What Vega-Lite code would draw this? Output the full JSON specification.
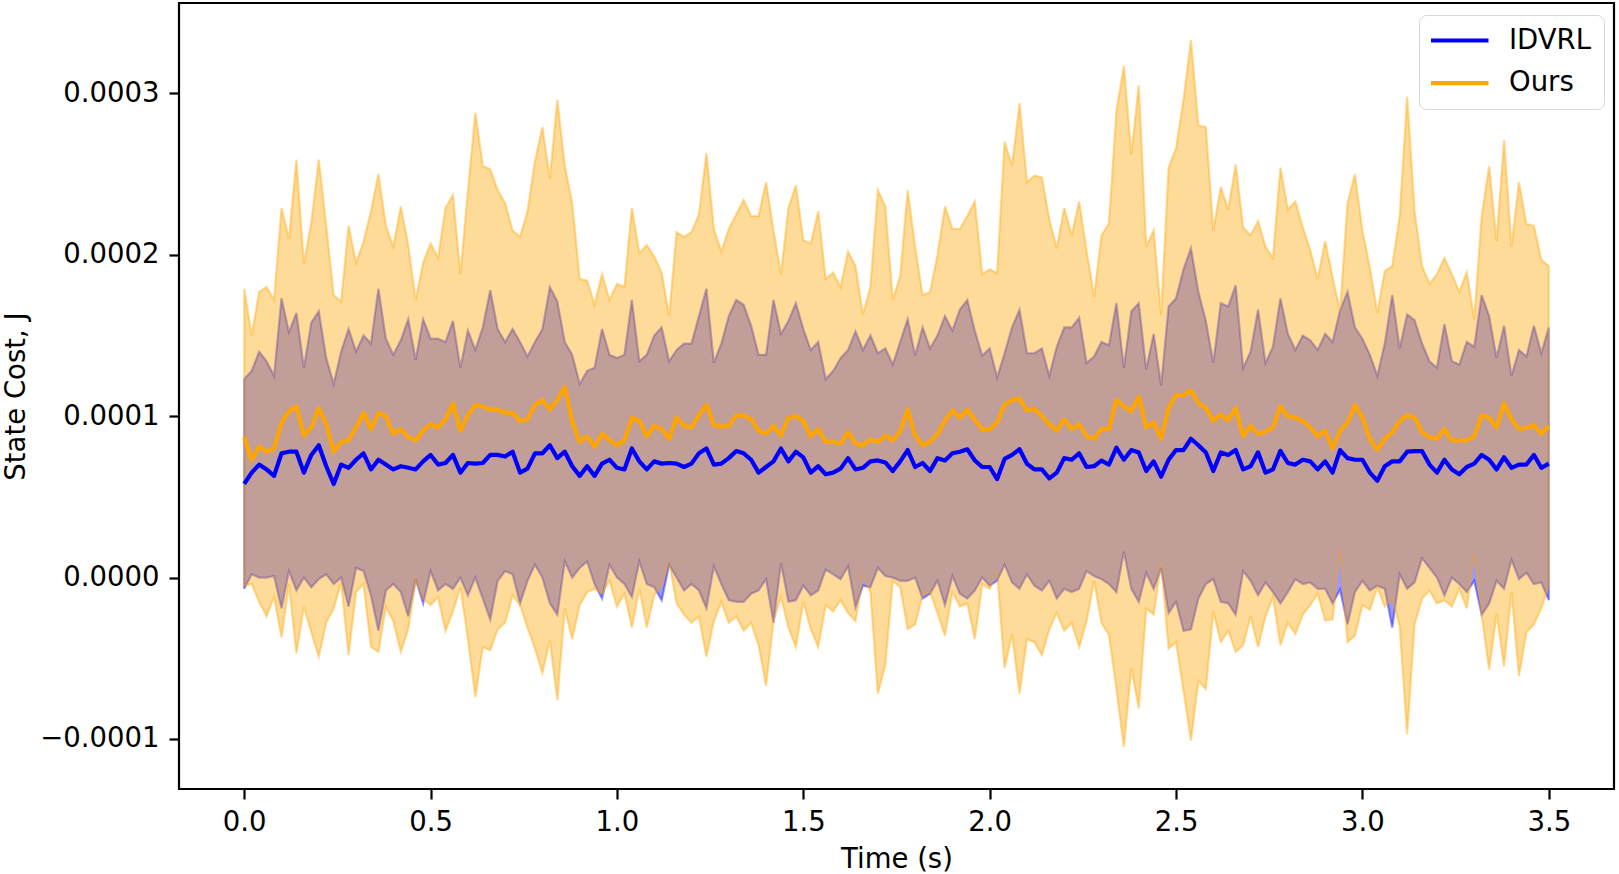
{
"$schema":"https://vega.github.io/schema/vega-lite/v6.json",
"width":1435,"height":786,
"autosize":{"type":"none"},
"padding":{"left":179,"top":3,"right":5,"bottom":85},
"background":"white",
"config":{"font":"DejaVu Sans","view":{"stroke":"#000000","strokeWidth":2.2},
"axis":{"grid":false,"domain":false,"ticks":true,"tickSize":10,"tickWidth":2.2,"tickColor":"#000000","labelFont":"DejaVu Sans","labelFontSize":27.5,"labelColor":"#000000","titleFont":"DejaVu Sans","titleFontSize":27.5,"titleFontWeight":"normal","titleColor":"#000000"}},
"data":{"values":[
{"t":0,"s":"IDVRL","m":5.8e-5,"u":12.3e-5,"l":-0.7e-5},
{"t":0.02,"s":"IDVRL","m":6.5e-5,"u":12.8e-5,"l":0.2e-5},
{"t":0.04,"s":"IDVRL","m":7.0e-5,"u":14.0e-5,"l":0},
{"t":0.06,"s":"IDVRL","m":6.7e-5,"u":13.4e-5,"l":0},
{"t":0.08,"s":"IDVRL","m":6.3e-5,"u":12.5e-5,"l":0.1e-5},
{"t":0.1,"s":"IDVRL","m":7.7e-5,"u":17.3e-5,"l":-1.9e-5},
{"t":0.12,"s":"IDVRL","m":7.8e-5,"u":15.2e-5,"l":0.4e-5},
{"t":0.14,"s":"IDVRL","m":7.8e-5,"u":16.4e-5,"l":-0.8e-5},
{"t":0.16,"s":"IDVRL","m":6.5e-5,"u":13.0e-5,"l":0},
{"t":0.18,"s":"IDVRL","m":7.6e-5,"u":15.8e-5,"l":-0.6e-5},
{"t":0.2,"s":"IDVRL","m":8.2e-5,"u":16.5e-5,"l":-0.1e-5},
{"t":0.22,"s":"IDVRL","m":6.9e-5,"u":13.6e-5,"l":0.2e-5},
{"t":0.24,"s":"IDVRL","m":5.8e-5,"u":12.0e-5,"l":-0.4e-5},
{"t":0.26,"s":"IDVRL","m":7.0e-5,"u":14.0e-5,"l":0},
{"t":0.28,"s":"IDVRL","m":6.8e-5,"u":15.4e-5,"l":-1.8e-5},
{"t":0.3,"s":"IDVRL","m":7.3e-5,"u":14.0e-5,"l":0.6e-5},
{"t":0.32,"s":"IDVRL","m":7.7e-5,"u":15.0e-5,"l":0.4e-5},
{"t":0.34,"s":"IDVRL","m":6.7e-5,"u":14.5e-5,"l":-1.1e-5},
{"t":0.36,"s":"IDVRL","m":7.3e-5,"u":17.9e-5,"l":-3.3e-5},
{"t":0.38,"s":"IDVRL","m":7.0e-5,"u":14.8e-5,"l":-0.8e-5},
{"t":0.4,"s":"IDVRL","m":6.7e-5,"u":13.8e-5,"l":-0.4e-5},
{"t":0.42,"s":"IDVRL","m":6.9e-5,"u":14.7e-5,"l":-0.9e-5},
{"t":0.44,"s":"IDVRL","m":6.8e-5,"u":16.0e-5,"l":-2.4e-5},
{"t":0.46,"s":"IDVRL","m":6.7e-5,"u":13.5e-5,"l":-0.1e-5},
{"t":0.48,"s":"IDVRL","m":7.2e-5,"u":16.0e-5,"l":-1.6e-5},
{"t":0.5,"s":"IDVRL","m":7.6e-5,"u":14.8e-5,"l":0.4e-5},
{"t":0.52,"s":"IDVRL","m":7.0e-5,"u":14.8e-5,"l":-0.8e-5},
{"t":0.54,"s":"IDVRL","m":7.1e-5,"u":14.6e-5,"l":-0.4e-5},
{"t":0.56,"s":"IDVRL","m":7.6e-5,"u":15.9e-5,"l":-0.7e-5},
{"t":0.58,"s":"IDVRL","m":6.5e-5,"u":13.0e-5,"l":0},
{"t":0.6,"s":"IDVRL","m":7.1e-5,"u":15.3e-5,"l":-1.1e-5},
{"t":0.62,"s":"IDVRL","m":7.06e-5,"u":14.1e-5,"l":0},
{"t":0.64,"s":"IDVRL","m":7.1e-5,"u":15.5e-5,"l":-1.3e-5},
{"t":0.66,"s":"IDVRL","m":7.6e-5,"u":17.8e-5,"l":-2.6e-5},
{"t":0.68,"s":"IDVRL","m":7.6e-5,"u":15.4e-5,"l":-0.2e-5},
{"t":0.7,"s":"IDVRL","m":7.5e-5,"u":14.6e-5,"l":0.4e-5},
{"t":0.72,"s":"IDVRL","m":7.8e-5,"u":15.4e-5,"l":0.2e-5},
{"t":0.74,"s":"IDVRL","m":6.5e-5,"u":14.6e-5,"l":-1.6e-5},
{"t":0.76,"s":"IDVRL","m":6.75e-5,"u":13.7e-5,"l":-0.2e-5},
{"t":0.78,"s":"IDVRL","m":7.7e-5,"u":14.6e-5,"l":0.8e-5},
{"t":0.8,"s":"IDVRL","m":7.7e-5,"u":15.4e-5,"l":0},
{"t":0.82,"s":"IDVRL","m":8.2e-5,"u":18.0e-5,"l":-1.6e-5},
{"t":0.84,"s":"IDVRL","m":7.4e-5,"u":17.1e-5,"l":-2.3e-5},
{"t":0.86,"s":"IDVRL","m":7.8e-5,"u":14.6e-5,"l":1.0e-5},
{"t":0.88,"s":"IDVRL","m":6.9e-5,"u":13.8e-5,"l":0},
{"t":0.9,"s":"IDVRL","m":6.3e-5,"u":12.0e-5,"l":0.6e-5},
{"t":0.92,"s":"IDVRL","m":6.9e-5,"u":12.8e-5,"l":1.0e-5},
{"t":0.94,"s":"IDVRL","m":6.3e-5,"u":13.0e-5,"l":-0.4e-5},
{"t":0.96,"s":"IDVRL","m":7.06e-5,"u":15.4e-5,"l":-1.3e-5},
{"t":0.98,"s":"IDVRL","m":7.3e-5,"u":13.8e-5,"l":0.8e-5},
{"t":1.0,"s":"IDVRL","m":6.8e-5,"u":13.6e-5,"l":0},
{"t":1.02,"s":"IDVRL","m":6.7e-5,"u":13.8e-5,"l":-0.4e-5},
{"t":1.04,"s":"IDVRL","m":8.0e-5,"u":17.2e-5,"l":-1.2e-5},
{"t":1.06,"s":"IDVRL","m":7.2e-5,"u":13.4e-5,"l":1.0e-5},
{"t":1.08,"s":"IDVRL","m":6.7e-5,"u":13.8e-5,"l":-0.4e-5},
{"t":1.1,"s":"IDVRL","m":7.2e-5,"u":15.0e-5,"l":-0.6e-5},
{"t":1.12,"s":"IDVRL","m":7.06e-5,"u":15.5e-5,"l":-1.4e-5},
{"t":1.14,"s":"IDVRL","m":7.1e-5,"u":13.4e-5,"l":0.8e-5},
{"t":1.16,"s":"IDVRL","m":7.06e-5,"u":14.1e-5,"l":0},
{"t":1.18,"s":"IDVRL","m":6.85e-5,"u":14.5e-5,"l":-0.8e-5},
{"t":1.2,"s":"IDVRL","m":7.06e-5,"u":14.5e-5,"l":-0.4e-5},
{"t":1.22,"s":"IDVRL","m":7.7e-5,"u":16.2e-5,"l":-0.8e-5},
{"t":1.24,"s":"IDVRL","m":8.0e-5,"u":17.9e-5,"l":-1.9e-5},
{"t":1.26,"s":"IDVRL","m":7.0e-5,"u":13.3e-5,"l":0.7e-5},
{"t":1.28,"s":"IDVRL","m":7.06e-5,"u":14.5e-5,"l":-0.4e-5},
{"t":1.3,"s":"IDVRL","m":7.4e-5,"u":16.2e-5,"l":-1.4e-5},
{"t":1.32,"s":"IDVRL","m":7.84e-5,"u":17.2e-5,"l":-1.5e-5},
{"t":1.34,"s":"IDVRL","m":7.7e-5,"u":16.9e-5,"l":-1.5e-5},
{"t":1.36,"s":"IDVRL","m":7.3e-5,"u":15.6e-5,"l":-1.0e-5},
{"t":1.38,"s":"IDVRL","m":6.5e-5,"u":13.8e-5,"l":-0.8e-5},
{"t":1.4,"s":"IDVRL","m":6.85e-5,"u":13.8e-5,"l":-0.1e-5},
{"t":1.42,"s":"IDVRL","m":7.2e-5,"u":17.2e-5,"l":-2.8e-5},
{"t":1.44,"s":"IDVRL","m":8.0e-5,"u":15.1e-5,"l":0.9e-5},
{"t":1.46,"s":"IDVRL","m":7.2e-5,"u":15.9e-5,"l":-1.5e-5},
{"t":1.48,"s":"IDVRL","m":7.8e-5,"u":17.0e-5,"l":-1.4e-5},
{"t":1.5,"s":"IDVRL","m":7.45e-5,"u":15.4e-5,"l":-0.5e-5},
{"t":1.52,"s":"IDVRL","m":6.5e-5,"u":14.1e-5,"l":-1.1e-5},
{"t":1.54,"s":"IDVRL","m":6.9e-5,"u":14.6e-5,"l":-0.8e-5},
{"t":1.56,"s":"IDVRL","m":6.4e-5,"u":12.3e-5,"l":0.5e-5},
{"t":1.58,"s":"IDVRL","m":6.5e-5,"u":12.8e-5,"l":0.2e-5},
{"t":1.6,"s":"IDVRL","m":6.75e-5,"u":13.6e-5,"l":-0.1e-5},
{"t":1.62,"s":"IDVRL","m":7.4e-5,"u":14.1e-5,"l":0.7e-5},
{"t":1.64,"s":"IDVRL","m":6.7e-5,"u":15.25e-5,"l":-1.85e-5},
{"t":1.66,"s":"IDVRL","m":6.8e-5,"u":14.1e-5,"l":-0.5e-5},
{"t":1.68,"s":"IDVRL","m":7.2e-5,"u":15.0e-5,"l":-0.6e-5},
{"t":1.7,"s":"IDVRL","m":7.26e-5,"u":13.9e-5,"l":0.6e-5},
{"t":1.72,"s":"IDVRL","m":7.13e-5,"u":14.2e-5,"l":0.1e-5},
{"t":1.74,"s":"IDVRL","m":6.6e-5,"u":13.2e-5,"l":0},
{"t":1.76,"s":"IDVRL","m":7.2e-5,"u":14.6e-5,"l":-0.2e-5},
{"t":1.78,"s":"IDVRL","m":7.9e-5,"u":16.0e-5,"l":-0.2e-5},
{"t":1.8,"s":"IDVRL","m":6.85e-5,"u":13.75e-5,"l":0},
{"t":1.82,"s":"IDVRL","m":7.1e-5,"u":15.5e-5,"l":-1.3e-5},
{"t":1.84,"s":"IDVRL","m":6.6e-5,"u":14.2e-5,"l":-1.0e-5},
{"t":1.86,"s":"IDVRL","m":7.4e-5,"u":15.0e-5,"l":-0.2e-5},
{"t":1.88,"s":"IDVRL","m":7.26e-5,"u":16.2e-5,"l":-1.7e-5},
{"t":1.9,"s":"IDVRL","m":7.7e-5,"u":15.3e-5,"l":0.1e-5},
{"t":1.92,"s":"IDVRL","m":7.8e-5,"u":16.6e-5,"l":-1.0e-5},
{"t":1.94,"s":"IDVRL","m":7.95e-5,"u":17.2e-5,"l":-1.3e-5},
{"t":1.96,"s":"IDVRL","m":7.26e-5,"u":15.3e-5,"l":-0.8e-5},
{"t":1.98,"s":"IDVRL","m":6.85e-5,"u":13.75e-5,"l":0},
{"t":2.0,"s":"IDVRL","m":6.85e-5,"u":14.2e-5,"l":-0.5e-5},
{"t":2.02,"s":"IDVRL","m":6.1e-5,"u":12.4e-5,"l":-0.2e-5},
{"t":2.04,"s":"IDVRL","m":7.35e-5,"u":13.9e-5,"l":0.8e-5},
{"t":2.06,"s":"IDVRL","m":7.6e-5,"u":15.5e-5,"l":-0.3e-5},
{"t":2.08,"s":"IDVRL","m":7.95e-5,"u":16.6e-5,"l":-0.7e-5},
{"t":2.1,"s":"IDVRL","m":7.05e-5,"u":13.9e-5,"l":0.2e-5},
{"t":2.12,"s":"IDVRL","m":6.7e-5,"u":13.9e-5,"l":-0.5e-5},
{"t":2.14,"s":"IDVRL","m":6.7e-5,"u":14.2e-5,"l":-0.8e-5},
{"t":2.16,"s":"IDVRL","m":6.15e-5,"u":12.5e-5,"l":-0.2e-5},
{"t":2.18,"s":"IDVRL","m":6.5e-5,"u":14.3e-5,"l":-1.3e-5},
{"t":2.2,"s":"IDVRL","m":7.4e-5,"u":15.5e-5,"l":-0.7e-5},
{"t":2.22,"s":"IDVRL","m":7.3e-5,"u":15.5e-5,"l":-0.9e-5},
{"t":2.24,"s":"IDVRL","m":7.7e-5,"u":16.1e-5,"l":-0.7e-5},
{"t":2.26,"s":"IDVRL","m":6.85e-5,"u":13.3e-5,"l":0.4e-5},
{"t":2.28,"s":"IDVRL","m":6.9e-5,"u":13.7e-5,"l":0.1e-5},
{"t":2.3,"s":"IDVRL","m":7.25e-5,"u":14.6e-5,"l":-0.1e-5},
{"t":2.32,"s":"IDVRL","m":7.0e-5,"u":14.4e-5,"l":-0.4e-5},
{"t":2.34,"s":"IDVRL","m":8.05e-5,"u":17.0e-5,"l":-0.9e-5},
{"t":2.36,"s":"IDVRL","m":7.3e-5,"u":13.0e-5,"l":1.6e-5},
{"t":2.38,"s":"IDVRL","m":7.9e-5,"u":16.5e-5,"l":-0.7e-5},
{"t":2.4,"s":"IDVRL","m":7.75e-5,"u":17.0e-5,"l":-1.5e-5},
{"t":2.42,"s":"IDVRL","m":6.6e-5,"u":12.9e-5,"l":0.3e-5},
{"t":2.44,"s":"IDVRL","m":7.2e-5,"u":15.1e-5,"l":-0.7e-5},
{"t":2.46,"s":"IDVRL","m":6.25e-5,"u":11.9e-5,"l":0.6e-5},
{"t":2.48,"s":"IDVRL","m":7.3e-5,"u":16.8e-5,"l":-2.2e-5},
{"t":2.5,"s":"IDVRL","m":7.9e-5,"u":17.3e-5,"l":-1.5e-5},
{"t":2.52,"s":"IDVRL","m":7.9e-5,"u":19.1e-5,"l":-3.3e-5},
{"t":2.54,"s":"IDVRL","m":8.6e-5,"u":20.4e-5,"l":-3.2e-5},
{"t":2.56,"s":"IDVRL","m":8.2e-5,"u":17.7e-5,"l":-1.3e-5},
{"t":2.58,"s":"IDVRL","m":7.75e-5,"u":15.9e-5,"l":-0.4e-5},
{"t":2.6,"s":"IDVRL","m":6.6e-5,"u":13.3e-5,"l":-0.1e-5},
{"t":2.62,"s":"IDVRL","m":7.75e-5,"u":17.0e-5,"l":-1.5e-5},
{"t":2.64,"s":"IDVRL","m":7.6e-5,"u":16.8e-5,"l":-1.6e-5},
{"t":2.66,"s":"IDVRL","m":7.9e-5,"u":18.1e-5,"l":-2.3e-5},
{"t":2.68,"s":"IDVRL","m":6.7e-5,"u":13.0e-5,"l":0.4e-5},
{"t":2.7,"s":"IDVRL","m":6.9e-5,"u":14.0e-5,"l":-0.2e-5},
{"t":2.72,"s":"IDVRL","m":7.76e-5,"u":16.6e-5,"l":-1.1e-5},
{"t":2.74,"s":"IDVRL","m":6.5e-5,"u":13.3e-5,"l":-0.3e-5},
{"t":2.76,"s":"IDVRL","m":6.7e-5,"u":14.3e-5,"l":-0.9e-5},
{"t":2.78,"s":"IDVRL","m":7.85e-5,"u":17.3e-5,"l":-1.6e-5},
{"t":2.8,"s":"IDVRL","m":7.1e-5,"u":15.1e-5,"l":-0.9e-5},
{"t":2.82,"s":"IDVRL","m":7.0e-5,"u":14.1e-5,"l":-0.1e-5},
{"t":2.84,"s":"IDVRL","m":7.3e-5,"u":15.0e-5,"l":-0.4e-5},
{"t":2.86,"s":"IDVRL","m":7.2e-5,"u":14.7e-5,"l":-0.3e-5},
{"t":2.88,"s":"IDVRL","m":6.7e-5,"u":14.1e-5,"l":-0.7e-5},
{"t":2.9,"s":"IDVRL","m":7.2e-5,"u":15.1e-5,"l":-0.7e-5},
{"t":2.92,"s":"IDVRL","m":6.5e-5,"u":14.6e-5,"l":-1.6e-5},
{"t":2.94,"s":"IDVRL","m":7.9e-5,"u":16.55e-5,"l":-0.75e-5},
{"t":2.96,"s":"IDVRL","m":7.4e-5,"u":17.7e-5,"l":-2.9e-5},
{"t":2.98,"s":"IDVRL","m":7.3e-5,"u":15.5e-5,"l":-0.9e-5},
{"t":3.0,"s":"IDVRL","m":7.3e-5,"u":14.8e-5,"l":-0.2e-5},
{"t":3.02,"s":"IDVRL","m":6.5e-5,"u":13.8e-5,"l":-0.8e-5},
{"t":3.04,"s":"IDVRL","m":6.0e-5,"u":12.5e-5,"l":-0.5e-5},
{"t":3.06,"s":"IDVRL","m":6.9e-5,"u":14.5e-5,"l":-0.7e-5},
{"t":3.08,"s":"IDVRL","m":7.2e-5,"u":17.5e-5,"l":-3.1e-5},
{"t":3.1,"s":"IDVRL","m":7.2e-5,"u":14.2e-5,"l":0.2e-5},
{"t":3.12,"s":"IDVRL","m":7.8e-5,"u":16.3e-5,"l":-0.7e-5},
{"t":3.14,"s":"IDVRL","m":7.84e-5,"u":15.95e-5,"l":-0.3e-5},
{"t":3.16,"s":"IDVRL","m":7.84e-5,"u":14.5e-5,"l":1.2e-5},
{"t":3.18,"s":"IDVRL","m":7.0e-5,"u":13.4e-5,"l":0.6e-5},
{"t":3.2,"s":"IDVRL","m":6.5e-5,"u":13.0e-5,"l":0},
{"t":3.22,"s":"IDVRL","m":7.3e-5,"u":15.7e-5,"l":-1.1e-5},
{"t":3.24,"s":"IDVRL","m":6.7e-5,"u":13.4e-5,"l":0},
{"t":3.26,"s":"IDVRL","m":6.4e-5,"u":13.2e-5,"l":-0.4e-5},
{"t":3.28,"s":"IDVRL","m":6.85e-5,"u":14.6e-5,"l":-0.9e-5},
{"t":3.3,"s":"IDVRL","m":7.06e-5,"u":14.3e-5,"l":-0.2e-5},
{"t":3.32,"s":"IDVRL","m":7.6e-5,"u":17.5e-5,"l":-2.3e-5},
{"t":3.34,"s":"IDVRL","m":7.3e-5,"u":16.2e-5,"l":-1.6e-5},
{"t":3.36,"s":"IDVRL","m":6.7e-5,"u":13.6e-5,"l":-0.2e-5},
{"t":3.38,"s":"IDVRL","m":7.45e-5,"u":15.6e-5,"l":-0.7e-5},
{"t":3.4,"s":"IDVRL","m":6.8e-5,"u":12.5e-5,"l":1.1e-5},
{"t":3.42,"s":"IDVRL","m":7.0e-5,"u":14.1e-5,"l":-0.1e-5},
{"t":3.44,"s":"IDVRL","m":7.0e-5,"u":13.7e-5,"l":0.3e-5},
{"t":3.46,"s":"IDVRL","m":7.6e-5,"u":15.6e-5,"l":-0.4e-5},
{"t":3.48,"s":"IDVRL","m":6.8e-5,"u":13.9e-5,"l":-0.3e-5},
{"t":3.5,"s":"IDVRL","m":7.06e-5,"u":15.5e-5,"l":-1.4e-5},
{"t":0,"s":"Ours","m":8.7e-5,"u":17.9e-5,"l":-0.5e-5},
{"t":0.02,"s":"Ours","m":7.3e-5,"u":15.0e-5,"l":-0.4e-5},
{"t":0.04,"s":"Ours","m":8.1e-5,"u":17.7e-5,"l":-1.5e-5},
{"t":0.06,"s":"Ours","m":7.8e-5,"u":18.0e-5,"l":-2.4e-5},
{"t":0.08,"s":"Ours","m":8.0e-5,"u":17.2e-5,"l":-1.2e-5},
{"t":0.1,"s":"Ours","m":9.6e-5,"u":22.9e-5,"l":-3.7e-5},
{"t":0.12,"s":"Ours","m":10.3e-5,"u":21.0e-5,"l":-0.4e-5},
{"t":0.14,"s":"Ours","m":10.6e-5,"u":25.9e-5,"l":-4.7e-5},
{"t":0.16,"s":"Ours","m":8.8e-5,"u":19.4e-5,"l":-1.8e-5},
{"t":0.18,"s":"Ours","m":9.3e-5,"u":22.0e-5,"l":-3.4e-5},
{"t":0.2,"s":"Ours","m":10.5e-5,"u":25.9e-5,"l":-4.9e-5},
{"t":0.22,"s":"Ours","m":9.5e-5,"u":21.8e-5,"l":-2.8e-5},
{"t":0.24,"s":"Ours","m":7.8e-5,"u":17.5e-5,"l":-1.9e-5},
{"t":0.26,"s":"Ours","m":8.4e-5,"u":17.1e-5,"l":-0.3e-5},
{"t":0.28,"s":"Ours","m":8.5e-5,"u":21.8e-5,"l":-4.8e-5},
{"t":0.3,"s":"Ours","m":9.3e-5,"u":19.5e-5,"l":-0.9e-5},
{"t":0.32,"s":"Ours","m":10.2e-5,"u":20.8e-5,"l":-0.4e-5},
{"t":0.34,"s":"Ours","m":9.2e-5,"u":22.7e-5,"l":-4.3e-5},
{"t":0.36,"s":"Ours","m":10.2e-5,"u":25.0e-5,"l":-4.6e-5},
{"t":0.38,"s":"Ours","m":10.0e-5,"u":21.8e-5,"l":-1.8e-5},
{"t":0.4,"s":"Ours","m":8.9e-5,"u":20.5e-5,"l":-2.7e-5},
{"t":0.42,"s":"Ours","m":9.2e-5,"u":23.0e-5,"l":-4.6e-5},
{"t":0.44,"s":"Ours","m":8.7e-5,"u":20.6e-5,"l":-3.2e-5},
{"t":0.46,"s":"Ours","m":8.5e-5,"u":17.2e-5,"l":-0.2e-5},
{"t":0.48,"s":"Ours","m":9.1e-5,"u":19.5e-5,"l":-1.3e-5},
{"t":0.5,"s":"Ours","m":9.5e-5,"u":20.7e-5,"l":-1.7e-5},
{"t":0.52,"s":"Ours","m":9.3e-5,"u":19.8e-5,"l":-1.2e-5},
{"t":0.54,"s":"Ours","m":9.8e-5,"u":22.9e-5,"l":-3.3e-5},
{"t":0.56,"s":"Ours","m":10.8e-5,"u":23.7e-5,"l":-2.1e-5},
{"t":0.58,"s":"Ours","m":9.1e-5,"u":18.8e-5,"l":-0.6e-5},
{"t":0.6,"s":"Ours","m":10.05e-5,"u":23.9e-5,"l":-3.8e-5},
{"t":0.62,"s":"Ours","m":10.7e-5,"u":28.8e-5,"l":-7.4e-5},
{"t":0.64,"s":"Ours","m":10.6e-5,"u":25.5e-5,"l":-4.3e-5},
{"t":0.66,"s":"Ours","m":10.4e-5,"u":25.3e-5,"l":-4.5e-5},
{"t":0.68,"s":"Ours","m":10.4e-5,"u":24.0e-5,"l":-3.2e-5},
{"t":0.7,"s":"Ours","m":10.2e-5,"u":23.2e-5,"l":-2.8e-5},
{"t":0.72,"s":"Ours","m":10.2e-5,"u":21.5e-5,"l":-1.1e-5},
{"t":0.74,"s":"Ours","m":9.7e-5,"u":21.1e-5,"l":-1.7e-5},
{"t":0.76,"s":"Ours","m":9.8e-5,"u":22.7e-5,"l":-3.1e-5},
{"t":0.78,"s":"Ours","m":10.7e-5,"u":25.8e-5,"l":-4.4e-5},
{"t":0.8,"s":"Ours","m":11.0e-5,"u":27.9e-5,"l":-5.9e-5},
{"t":0.82,"s":"Ours","m":10.4e-5,"u":24.7e-5,"l":-3.9e-5},
{"t":0.84,"s":"Ours","m":11.0e-5,"u":29.6e-5,"l":-7.6e-5},
{"t":0.86,"s":"Ours","m":11.8e-5,"u":25.5e-5,"l":-1.9e-5},
{"t":0.88,"s":"Ours","m":9.7e-5,"u":23.2e-5,"l":-3.8e-5},
{"t":0.9,"s":"Ours","m":8.4e-5,"u":18.5e-5,"l":-1.7e-5},
{"t":0.92,"s":"Ours","m":8.75e-5,"u":18.4e-5,"l":-0.9e-5},
{"t":0.94,"s":"Ours","m":8.1e-5,"u":16.9e-5,"l":-0.7e-5},
{"t":0.96,"s":"Ours","m":8.9e-5,"u":18.8e-5,"l":-1.0e-5},
{"t":0.98,"s":"Ours","m":8.5e-5,"u":17.2e-5,"l":-0.2e-5},
{"t":1.0,"s":"Ours","m":8.2e-5,"u":18.2e-5,"l":-1.8e-5},
{"t":1.02,"s":"Ours","m":8.5e-5,"u":18.0e-5,"l":-1.0e-5},
{"t":1.04,"s":"Ours","m":9.9e-5,"u":22.9e-5,"l":-3.1e-5},
{"t":1.06,"s":"Ours","m":9.7e-5,"u":20.1e-5,"l":-0.7e-5},
{"t":1.08,"s":"Ours","m":8.75e-5,"u":20.6e-5,"l":-3.1e-5},
{"t":1.1,"s":"Ours","m":9.4e-5,"u":19.9e-5,"l":-1.1e-5},
{"t":1.12,"s":"Ours","m":9.2e-5,"u":18.9e-5,"l":-0.5e-5},
{"t":1.14,"s":"Ours","m":8.6e-5,"u":16.2e-5,"l":1.0e-5},
{"t":1.16,"s":"Ours","m":9.9e-5,"u":21.4e-5,"l":-1.6e-5},
{"t":1.18,"s":"Ours","m":9.4e-5,"u":21.1e-5,"l":-2.3e-5},
{"t":1.2,"s":"Ours","m":9.3e-5,"u":21.4e-5,"l":-2.8e-5},
{"t":1.22,"s":"Ours","m":10.05e-5,"u":22.5e-5,"l":-2.4e-5},
{"t":1.24,"s":"Ours","m":10.7e-5,"u":26.3e-5,"l":-4.9e-5},
{"t":1.26,"s":"Ours","m":9.45e-5,"u":21.6e-5,"l":-2.7e-5},
{"t":1.28,"s":"Ours","m":9.35e-5,"u":20.2e-5,"l":-1.5e-5},
{"t":1.3,"s":"Ours","m":9.4e-5,"u":21.6e-5,"l":-2.8e-5},
{"t":1.32,"s":"Ours","m":10.05e-5,"u":22.5e-5,"l":-2.4e-5},
{"t":1.34,"s":"Ours","m":10.05e-5,"u":23.4e-5,"l":-3.3e-5},
{"t":1.36,"s":"Ours","m":9.8e-5,"u":22.4e-5,"l":-2.8e-5},
{"t":1.38,"s":"Ours","m":9.1e-5,"u":22.4e-5,"l":-4.2e-5},
{"t":1.4,"s":"Ours","m":8.9e-5,"u":24.5e-5,"l":-6.7e-5},
{"t":1.42,"s":"Ours","m":9.4e-5,"u":21.5e-5,"l":-2.7e-5},
{"t":1.44,"s":"Ours","m":8.8e-5,"u":18.8e-5,"l":-1.2e-5},
{"t":1.46,"s":"Ours","m":9.9e-5,"u":22.9e-5,"l":-3.1e-5},
{"t":1.48,"s":"Ours","m":10.0e-5,"u":24.3e-5,"l":-4.3e-5},
{"t":1.5,"s":"Ours","m":9.7e-5,"u":20.9e-5,"l":-1.5e-5},
{"t":1.52,"s":"Ours","m":8.75e-5,"u":20.7e-5,"l":-3.2e-5},
{"t":1.54,"s":"Ours","m":9.2e-5,"u":22.7e-5,"l":-4.3e-5},
{"t":1.56,"s":"Ours","m":8.4e-5,"u":18.5e-5,"l":-1.7e-5},
{"t":1.58,"s":"Ours","m":8.4e-5,"u":18.9e-5,"l":-2.1e-5},
{"t":1.6,"s":"Ours","m":8.3e-5,"u":18.0e-5,"l":-1.4e-5},
{"t":1.62,"s":"Ours","m":9.0e-5,"u":20.2e-5,"l":-2.2e-5},
{"t":1.64,"s":"Ours","m":8.3e-5,"u":19.3e-5,"l":-2.7e-5},
{"t":1.66,"s":"Ours","m":8.2e-5,"u":16.3e-5,"l":0.1e-5},
{"t":1.68,"s":"Ours","m":8.55e-5,"u":18.0e-5,"l":-0.9e-5},
{"t":1.7,"s":"Ours","m":8.4e-5,"u":24.0e-5,"l":-7.2e-5},
{"t":1.72,"s":"Ours","m":8.8e-5,"u":23.0e-5,"l":-5.4e-5},
{"t":1.74,"s":"Ours","m":8.5e-5,"u":17.2e-5,"l":-0.2e-5},
{"t":1.76,"s":"Ours","m":9.06e-5,"u":18.7e-5,"l":-0.6e-5},
{"t":1.78,"s":"Ours","m":10.4e-5,"u":24.0e-5,"l":-3.2e-5},
{"t":1.8,"s":"Ours","m":8.8e-5,"u":20.5e-5,"l":-2.9e-5},
{"t":1.82,"s":"Ours","m":8.2e-5,"u":17.5e-5,"l":-1.1e-5},
{"t":1.84,"s":"Ours","m":8.4e-5,"u":17.7e-5,"l":-0.9e-5},
{"t":1.86,"s":"Ours","m":8.9e-5,"u":20.0e-5,"l":-2.2e-5},
{"t":1.88,"s":"Ours","m":9.7e-5,"u":23.0e-5,"l":-3.6e-5},
{"t":1.9,"s":"Ours","m":10.35e-5,"u":21.6e-5,"l":-0.9e-5},
{"t":1.92,"s":"Ours","m":9.9e-5,"u":21.6e-5,"l":-1.8e-5},
{"t":1.94,"s":"Ours","m":10.4e-5,"u":22.4e-5,"l":-1.6e-5},
{"t":1.96,"s":"Ours","m":9.75e-5,"u":23.3e-5,"l":-3.8e-5},
{"t":1.98,"s":"Ours","m":9.2e-5,"u":18.8e-5,"l":-0.4e-5},
{"t":2.0,"s":"Ours","m":9.2e-5,"u":19.1e-5,"l":-0.7e-5},
{"t":2.02,"s":"Ours","m":9.6e-5,"u":18.85e-5,"l":0.35e-5},
{"t":2.04,"s":"Ours","m":10.7e-5,"u":27.0e-5,"l":-5.6e-5},
{"t":2.06,"s":"Ours","m":11.0e-5,"u":25.5e-5,"l":-3.5e-5},
{"t":2.08,"s":"Ours","m":11.1e-5,"u":29.4e-5,"l":-7.2e-5},
{"t":2.1,"s":"Ours","m":10.35e-5,"u":24.5e-5,"l":-3.8e-5},
{"t":2.12,"s":"Ours","m":10.45e-5,"u":24.9e-5,"l":-4.0e-5},
{"t":2.14,"s":"Ours","m":10.0e-5,"u":24.8e-5,"l":-4.8e-5},
{"t":2.16,"s":"Ours","m":9.5e-5,"u":22.2e-5,"l":-3.2e-5},
{"t":2.18,"s":"Ours","m":9.1e-5,"u":20.4e-5,"l":-2.2e-5},
{"t":2.2,"s":"Ours","m":9.8e-5,"u":22.9e-5,"l":-3.3e-5},
{"t":2.22,"s":"Ours","m":9.2e-5,"u":21.2e-5,"l":-2.8e-5},
{"t":2.24,"s":"Ours","m":9.5e-5,"u":23.3e-5,"l":-4.3e-5},
{"t":2.26,"s":"Ours","m":8.76e-5,"u":20.25e-5,"l":-2.7e-5},
{"t":2.28,"s":"Ours","m":8.6e-5,"u":17.4e-5,"l":-0.2e-5},
{"t":2.3,"s":"Ours","m":9.2e-5,"u":21.2e-5,"l":-2.8e-5},
{"t":2.32,"s":"Ours","m":9.2e-5,"u":21.95e-5,"l":-3.55e-5},
{"t":2.34,"s":"Ours","m":11.0e-5,"u":28.9e-5,"l":-6.9e-5},
{"t":2.36,"s":"Ours","m":10.6e-5,"u":31.7e-5,"l":-10.5e-5},
{"t":2.38,"s":"Ours","m":10.3e-5,"u":26.2e-5,"l":-5.6e-5},
{"t":2.4,"s":"Ours","m":11.2e-5,"u":30.5e-5,"l":-8.1e-5},
{"t":2.42,"s":"Ours","m":9.3e-5,"u":20.5e-5,"l":-1.9e-5},
{"t":2.44,"s":"Ours","m":9.6e-5,"u":21.5e-5,"l":-2.3e-5},
{"t":2.46,"s":"Ours","m":8.6e-5,"u":16.3e-5,"l":0.9e-5},
{"t":2.48,"s":"Ours","m":10.5e-5,"u":25.4e-5,"l":-4.4e-5},
{"t":2.5,"s":"Ours","m":11.3e-5,"u":26.6e-5,"l":-4.0e-5},
{"t":2.52,"s":"Ours","m":11.3e-5,"u":29.6e-5,"l":-7.0e-5},
{"t":2.54,"s":"Ours","m":11.6e-5,"u":33.3e-5,"l":-10.1e-5},
{"t":2.56,"s":"Ours","m":10.8e-5,"u":28.0e-5,"l":-6.4e-5},
{"t":2.58,"s":"Ours","m":10.5e-5,"u":27.9e-5,"l":-6.9e-5},
{"t":2.6,"s":"Ours","m":9.7e-5,"u":21.5e-5,"l":-2.1e-5},
{"t":2.62,"s":"Ours","m":10.1e-5,"u":24.2e-5,"l":-4.0e-5},
{"t":2.64,"s":"Ours","m":9.75e-5,"u":22.8e-5,"l":-3.3e-5},
{"t":2.66,"s":"Ours","m":10.5e-5,"u":25.6e-5,"l":-4.6e-5},
{"t":2.68,"s":"Ours","m":8.76e-5,"u":21.7e-5,"l":-4.2e-5},
{"t":2.7,"s":"Ours","m":9.4e-5,"u":21.2e-5,"l":-2.4e-5},
{"t":2.72,"s":"Ours","m":8.9e-5,"u":22.1e-5,"l":-4.3e-5},
{"t":2.74,"s":"Ours","m":9.04e-5,"u":20.5e-5,"l":-2.4e-5},
{"t":2.76,"s":"Ours","m":9.3e-5,"u":19.8e-5,"l":-1.2e-5},
{"t":2.78,"s":"Ours","m":10.6e-5,"u":25.4e-5,"l":-4.2e-5},
{"t":2.8,"s":"Ours","m":10.0e-5,"u":22.8e-5,"l":-2.8e-5},
{"t":2.82,"s":"Ours","m":9.9e-5,"u":23.3e-5,"l":-3.5e-5},
{"t":2.84,"s":"Ours","m":9.7e-5,"u":21.7e-5,"l":-2.3e-5},
{"t":2.86,"s":"Ours","m":9.3e-5,"u":20.3e-5,"l":-1.7e-5},
{"t":2.88,"s":"Ours","m":8.75e-5,"u":18.5e-5,"l":-1.0e-5},
{"t":2.9,"s":"Ours","m":9.1e-5,"u":20.85e-5,"l":-2.65e-5},
{"t":2.92,"s":"Ours","m":8.0e-5,"u":18.6e-5,"l":-2.6e-5},
{"t":2.94,"s":"Ours","m":9.1e-5,"u":16.5e-5,"l":1.7e-5},
{"t":2.96,"s":"Ours","m":9.6e-5,"u":23.2e-5,"l":-4.0e-5},
{"t":2.98,"s":"Ours","m":10.7e-5,"u":25.0e-5,"l":-3.6e-5},
{"t":3.0,"s":"Ours","m":9.9e-5,"u":21.5e-5,"l":-1.7e-5},
{"t":3.02,"s":"Ours","m":8.6e-5,"u":19.2e-5,"l":-2.0e-5},
{"t":3.04,"s":"Ours","m":7.9e-5,"u":16.4e-5,"l":-0.6e-5},
{"t":3.06,"s":"Ours","m":8.6e-5,"u":19.0e-5,"l":-1.8e-5},
{"t":3.08,"s":"Ours","m":9.0e-5,"u":19.3e-5,"l":-1.3e-5},
{"t":3.1,"s":"Ours","m":9.7e-5,"u":22.4e-5,"l":-3.0e-5},
{"t":3.12,"s":"Ours","m":10.05e-5,"u":29.8e-5,"l":-9.7e-5},
{"t":3.14,"s":"Ours","m":9.9e-5,"u":22.7e-5,"l":-2.9e-5},
{"t":3.16,"s":"Ours","m":9.0e-5,"u":19.3e-5,"l":-1.3e-5},
{"t":3.18,"s":"Ours","m":8.7e-5,"u":18.2e-5,"l":-0.8e-5},
{"t":3.2,"s":"Ours","m":8.6e-5,"u":18.8e-5,"l":-1.6e-5},
{"t":3.22,"s":"Ours","m":9.2e-5,"u":19.8e-5,"l":-1.4e-5},
{"t":3.24,"s":"Ours","m":8.5e-5,"u":18.8e-5,"l":-1.8e-5},
{"t":3.26,"s":"Ours","m":8.5e-5,"u":17.7e-5,"l":-0.7e-5},
{"t":3.28,"s":"Ours","m":8.5e-5,"u":18.9e-5,"l":-1.9e-5},
{"t":3.3,"s":"Ours","m":8.75e-5,"u":16.0e-5,"l":1.5e-5},
{"t":3.32,"s":"Ours","m":10.05e-5,"u":22.4e-5,"l":-2.3e-5},
{"t":3.34,"s":"Ours","m":9.9e-5,"u":25.5e-5,"l":-5.7e-5},
{"t":3.36,"s":"Ours","m":9.3e-5,"u":20.85e-5,"l":-2.25e-5},
{"t":3.38,"s":"Ours","m":10.8e-5,"u":27.1e-5,"l":-5.5e-5},
{"t":3.4,"s":"Ours","m":9.8e-5,"u":20.5e-5,"l":-0.9e-5},
{"t":3.42,"s":"Ours","m":9.2e-5,"u":24.5e-5,"l":-6.1e-5},
{"t":3.44,"s":"Ours","m":9.27e-5,"u":21.9e-5,"l":-3.4e-5},
{"t":3.46,"s":"Ours","m":9.45e-5,"u":21.8e-5,"l":-2.9e-5},
{"t":3.48,"s":"Ours","m":8.9e-5,"u":19.7e-5,"l":-1.9e-5},
{"t":3.5,"s":"Ours","m":9.4e-5,"u":19.3e-5,"l":-0.5e-5}
]},
"layer":[
{"mark":{"type":"area","fillOpacity":0.4,"strokeOpacity":0.4,"strokeWidth":2.2},
"encoding":{
"x":{"field":"t","type":"quantitative","title":"Time (s)","scale":{"domain":[-0.175,3.675],"nice":false,"zero":false},"axis":{"values":[0,0.5,1,1.5,2,2.5,3,3.5],"format":".1f","labelPadding":9,"titlePadding":10}},
"y":{"field":"u","type":"quantitative","title":"State Cost, J","scale":{"domain":[-13.1e-5,35.6e-5],"nice":false,"zero":false},"axis":{"values":[-1e-4,0,1e-4,2e-4,3e-4],"format":".4f","labelPadding":10,"titlePadding":9}},
"y2":{"field":"l"},
"color":{"field":"s","type":"nominal","scale":{"domain":["IDVRL","Ours"],"range":["#0000ff","#ffa500"]}},
"stroke":{"field":"s","type":"nominal","scale":{"domain":["IDVRL","Ours"],"range":["#0000ff","#ffa500"]}}
}},
{"mark":{"type":"line","strokeWidth":4.2,"strokeJoin":"round"},
"encoding":{
"x":{"field":"t","type":"quantitative","title":"Time (s)"},
"y":{"field":"m","type":"quantitative","title":"State Cost, J"},
"color":{"field":"s","type":"nominal","scale":{"domain":["IDVRL","Ours"],"range":["#0000ff","#ffa500"]},
"legend":{"title":null,"orient":"none","legendX":1240,"legendY":12,"symbolType":"stroke","symbolSize":3600,"symbolStrokeWidth":4.2,"symbolOpacity":1,"symbolOffset":-5,"clipHeight":27,"labelFontSize":27.5,"labelFont":"DejaVu Sans","labelColor":"#000000","labelOffset":18,"rowPadding":14.7,"padding":12,"strokeColor":"#d6d6d6","fillColor":"rgba(255,255,255,0.8)","cornerRadius":7}}
}}
]
}
